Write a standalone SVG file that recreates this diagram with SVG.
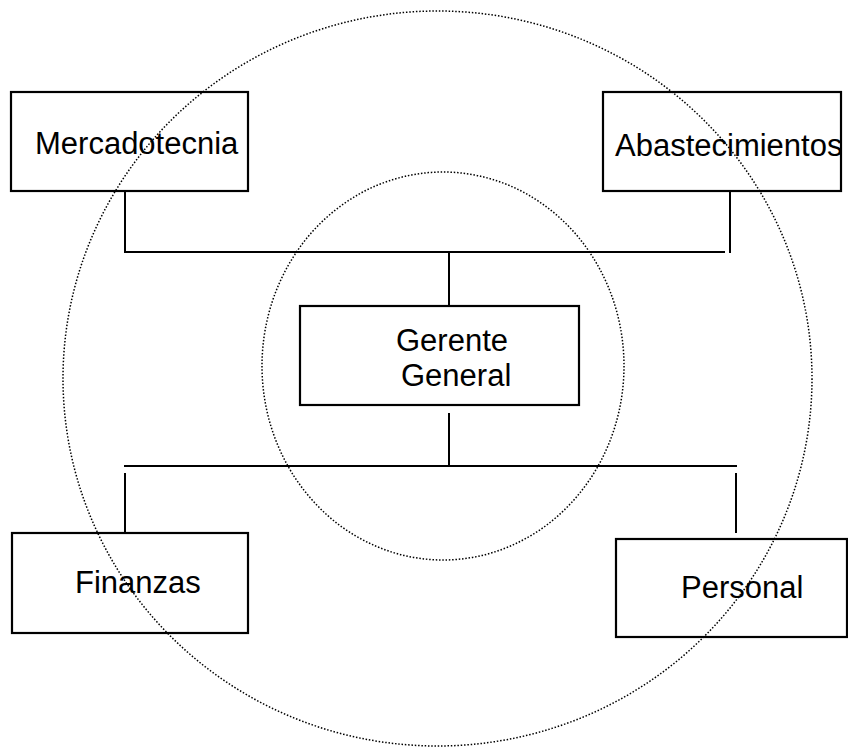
<svg xmlns="http://www.w3.org/2000/svg" width="848" height="747" viewBox="0 0 848 747">
  <style>
    .box { fill: #ffffff; stroke: #000000; stroke-width: 2.2; }
    .label { font-family: "Liberation Sans", Arial, sans-serif; font-size: 31px; fill: #000000; }
    .link { stroke: #000000; stroke-width: 2; fill: none; }
    .ring { fill: none; stroke: #000000; stroke-width: 1.5; stroke-dasharray: 1.5 1.8; }
  </style>
  <rect width="848" height="747" fill="#ffffff"/>

  <!-- nodes -->
  <g id="mercadotecnia">
    <rect class="box" x="11" y="92" width="237" height="99"/>
    <text class="label" x="35" y="154">Mercadotecnia</text>
  </g>
  <g id="abastecimientos">
    <rect class="box" x="603" y="92" width="238" height="99"/>
    <text class="label" x="615" y="156">Abastecimientos</text>
  </g>
  <g id="gerente-general">
    <rect class="box" x="300" y="306" width="279" height="99"/>
    <text class="label" x="396" y="351">Gerente</text>
    <text class="label" x="401" y="386">General</text>
  </g>
  <g id="finanzas">
    <rect class="box" x="12" y="533" width="236" height="100"/>
    <text class="label" x="75" y="593">Finanzas</text>
  </g>
  <g id="personal">
    <rect class="box" x="616" y="539" width="231" height="98"/>
    <text class="label" x="681" y="598">Personal</text>
  </g>

  <!-- connectors -->
  <g id="connectors">
    <line class="link" x1="125" y1="191" x2="125" y2="252"/>
    <line class="link" x1="730" y1="191" x2="730" y2="253"/>
    <line class="link" x1="124" y1="252" x2="725" y2="252"/>
    <line class="link" x1="449" y1="252" x2="449" y2="306"/>
    <line class="link" x1="449" y1="413" x2="449" y2="466"/>
    <line class="link" x1="124" y1="466" x2="737" y2="466"/>
    <line class="link" x1="125" y1="473" x2="125" y2="533"/>
    <line class="link" x1="736" y1="473" x2="736" y2="533"/>
  </g>

  <!-- dotted rings -->
  <g id="rings">
    <ellipse class="ring" cx="443" cy="366" rx="181" ry="194"/>
    <ellipse class="ring" cx="437.5" cy="378.5" rx="374.5" ry="367.5"/>
  </g>
</svg>
